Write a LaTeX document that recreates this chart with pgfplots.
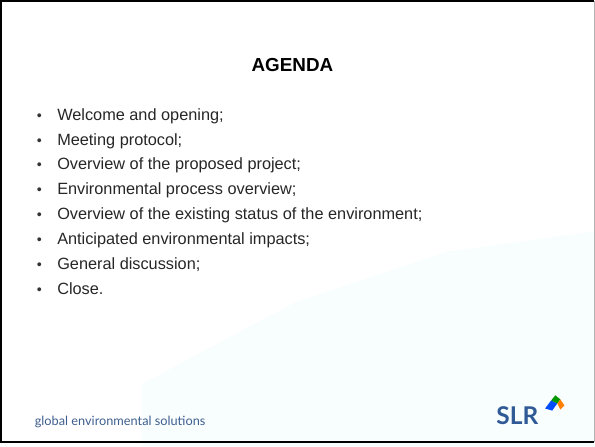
\documentclass[border=0pt]{standalone}
\usepackage{pgfplots}
\pgfplotsset{compat=1.18}
\usepackage{fontspec}
\setmainfont{Liberation Sans}
\newfontfamily\footfont{Lato}
\definecolor{slrblue}{HTML}{2F5A96}
\definecolor{foot}{HTML}{3E5E8E}
\begin{document}
\begin{tikzpicture}
\begin{axis}[
  width=595pt, height=441pt, scale only axis,
  xmin=0, xmax=595, ymin=0, ymax=441, y dir=reverse,
  hide axis, clip=false]
% faint background wash
\addplot[draw=none, fill=cyan!5, opacity=0.5] coordinates {(150,441) (595,441) (595,230) (450,250) (300,300) (150,380)} -- cycle;
% slide frame
\addplot[black, line width=2pt] coordinates {(594,4) (12,4) (12,437) (594,437)};
\addplot[black!30, line width=0.8pt] coordinates {(594,4) (594,437)};
% title
\node[anchor=base, font=\fontsize{18.5}{20}\selectfont\bfseries] at (axis cs:298,73) {AGENDA};
% bullets
\pgfplotsinvokeforeach{0,...,7}{
  \node[anchor=base west, inner sep=0pt, font=\fontsize{14}{16}\selectfont, text=black!80] at (axis cs:47,{121+24.4*#1}) {\textbullet};
}
\node[anchor=base west, inner sep=0pt, font=\fontsize{16}{18}\selectfont, text=black!85] at (axis cs:67,121) {Welcome and opening;};
\node[anchor=base west, inner sep=0pt, font=\fontsize{16}{18}\selectfont, text=black!85] at (axis cs:67,145.4) {Meeting protocol;};
\node[anchor=base west, inner sep=0pt, font=\fontsize{16}{18}\selectfont, text=black!85] at (axis cs:67,169.8) {Overview of the proposed project;};
\node[anchor=base west, inner sep=0pt, font=\fontsize{16}{18}\selectfont, text=black!85] at (axis cs:67,194.2) {Environmental process overview;};
\node[anchor=base west, inner sep=0pt, font=\fontsize{16}{18}\selectfont, text=black!85] at (axis cs:67,218.6) {Overview of the existing status of the environment;};
\node[anchor=base west, inner sep=0pt, font=\fontsize{16}{18}\selectfont, text=black!85] at (axis cs:67,243) {Anticipated environmental impacts;};
\node[anchor=base west, inner sep=0pt, font=\fontsize{16}{18}\selectfont, text=black!85] at (axis cs:67,267.4) {General discussion;};
\node[anchor=base west, inner sep=0pt, font=\fontsize{16}{18}\selectfont, text=black!85] at (axis cs:67,291.8) {Close.};
% footer
\node[anchor=base west, inner sep=0pt, font=\footfont\fontsize{12.5}{14}\selectfont, text=foot] at (axis cs:45,421) {global environmental solutions};
% logo
\node[anchor=base west, inner sep=0pt, font=\footfont\fontsize{24}{26}\selectfont\bfseries, text=slrblue] at (axis cs:498,420) {SLR};
\addplot[draw=none, fill=blue!70!cyan] coordinates {(546,404) (552,396) (558,399) (553,406)} -- cycle;
\addplot[draw=none, fill=green!60!black] coordinates {(552,396) (556,391) (561,395) (558,399)} -- cycle;
\addplot[draw=none, fill=orange] coordinates {(558,399) (561,395) (565,401) (561,405)} -- cycle;
\end{axis}
\end{tikzpicture}
\end{document}
